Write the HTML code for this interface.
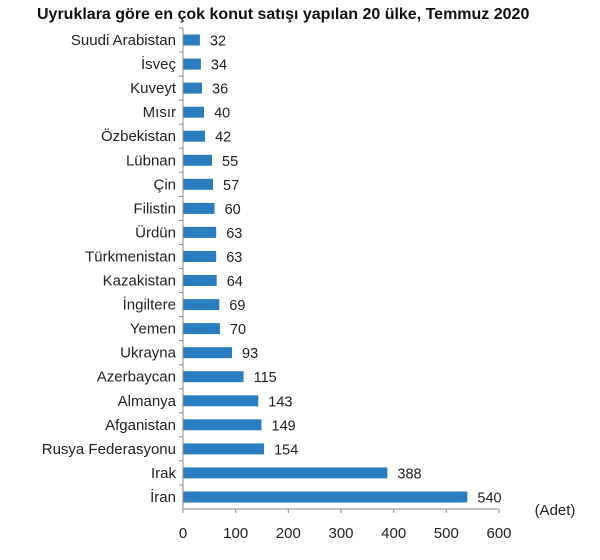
<!DOCTYPE html>
<html><head><meta charset="utf-8"><style>body{margin:0;background:#fff}</style></head><body>
<svg width="600" height="555" xmlns="http://www.w3.org/2000/svg" font-family="Liberation Sans, sans-serif" fill="#222">
<text x="37" y="19" font-size="16" font-weight="bold" fill="#111">Uyruklara göre en çok konut satışı yapılan 20 ülke, Temmuz 2020</text>
<g font-size="15" text-anchor="end">
<text x="176" y="45">Suudi Arabistan</text>
<text x="176" y="69.1">İsveç</text>
<text x="176" y="93.1">Kuveyt</text>
<text x="176" y="117.2">Mısır</text>
<text x="176" y="141.2">Özbekistan</text>
<text x="176" y="165.3">Lübnan</text>
<text x="176" y="189.3">Çin</text>
<text x="176" y="213.4">Filistin</text>
<text x="176" y="237.4">Ürdün</text>
<text x="176" y="261.5">Türkmenistan</text>
<text x="176" y="285.5">Kazakistan</text>
<text x="176" y="309.6">İngiltere</text>
<text x="176" y="333.6">Yemen</text>
<text x="176" y="357.7">Ukrayna</text>
<text x="176" y="381.7">Azerbaycan</text>
<text x="176" y="405.8">Almanya</text>
<text x="176" y="429.8">Afganistan</text>
<text x="176" y="453.9">Rusya Federasyonu</text>
<text x="176" y="477.9">Irak</text>
<text x="176" y="502">İran</text>
</g>
<g fill="#2a7ec0">
<rect x="183" y="34.5" width="16.9" height="11"/>
<rect x="183" y="58.6" width="17.9" height="11"/>
<rect x="183" y="82.6" width="19" height="11"/>
<rect x="183" y="106.7" width="21.1" height="11"/>
<rect x="183" y="130.7" width="22.1" height="11"/>
<rect x="183" y="154.8" width="29" height="11"/>
<rect x="183" y="178.8" width="30" height="11"/>
<rect x="183" y="202.9" width="31.6" height="11"/>
<rect x="183" y="226.9" width="33.2" height="11"/>
<rect x="183" y="251" width="33.2" height="11"/>
<rect x="183" y="275" width="33.7" height="11"/>
<rect x="183" y="299.1" width="36.3" height="11"/>
<rect x="183" y="323.1" width="36.9" height="11"/>
<rect x="183" y="347.2" width="49" height="11"/>
<rect x="183" y="371.2" width="60.6" height="11"/>
<rect x="183" y="395.3" width="75.3" height="11"/>
<rect x="183" y="419.3" width="78.5" height="11"/>
<rect x="183" y="443.4" width="81.1" height="11"/>
<rect x="183" y="467.4" width="204.4" height="11"/>
<rect x="183" y="491.5" width="284.4" height="11"/>
</g>
<g font-size="14.5">
<text x="209.9" y="45.5">32</text>
<text x="210.9" y="69.6">34</text>
<text x="212" y="93.6">36</text>
<text x="214.1" y="117.7">40</text>
<text x="215.1" y="141.7">42</text>
<text x="222" y="165.8">55</text>
<text x="223" y="189.8">57</text>
<text x="224.6" y="213.9">60</text>
<text x="226.2" y="237.9">63</text>
<text x="226.2" y="262">63</text>
<text x="226.7" y="286">64</text>
<text x="229.3" y="310.1">69</text>
<text x="229.9" y="334.1">70</text>
<text x="242" y="358.2">93</text>
<text x="253.6" y="382.2">115</text>
<text x="268.3" y="406.3">143</text>
<text x="271.5" y="430.3">149</text>
<text x="274.1" y="454.4">154</text>
<text x="397.4" y="478.4">388</text>
<text x="477.4" y="502.5">540</text>
</g>
<g stroke="#888">
<line x1="183" y1="28" x2="183" y2="509"/>
<line x1="183" y1="509" x2="499" y2="509"/>
<path d="M179 28H183M179 52.05H183M179 76.1H183M179 100.15H183M179 124.2H183M179 148.25H183M179 172.3H183M179 196.35H183M179 220.4H183M179 244.45H183M179 268.5H183M179 292.55H183M179 316.6H183M179 340.65H183M179 364.7H183M179 388.75H183M179 412.8H183M179 436.85H183M179 460.9H183M179 484.95H183"/>
<path d="M183 509V513M235.7 509V513M288.3 509V513M341 509V513M393.7 509V513M446.3 509V513M499 509V513"/>
</g>
<g font-size="15" text-anchor="middle">
<text x="183" y="538">0</text>
<text x="235.7" y="538">100</text>
<text x="288.3" y="538">200</text>
<text x="341" y="538">300</text>
<text x="393.7" y="538">400</text>
<text x="446.3" y="538">500</text>
<text x="499" y="538">600</text>
<text x="555" y="515">(Adet)</text>
</g>
</svg>
</body></html>
